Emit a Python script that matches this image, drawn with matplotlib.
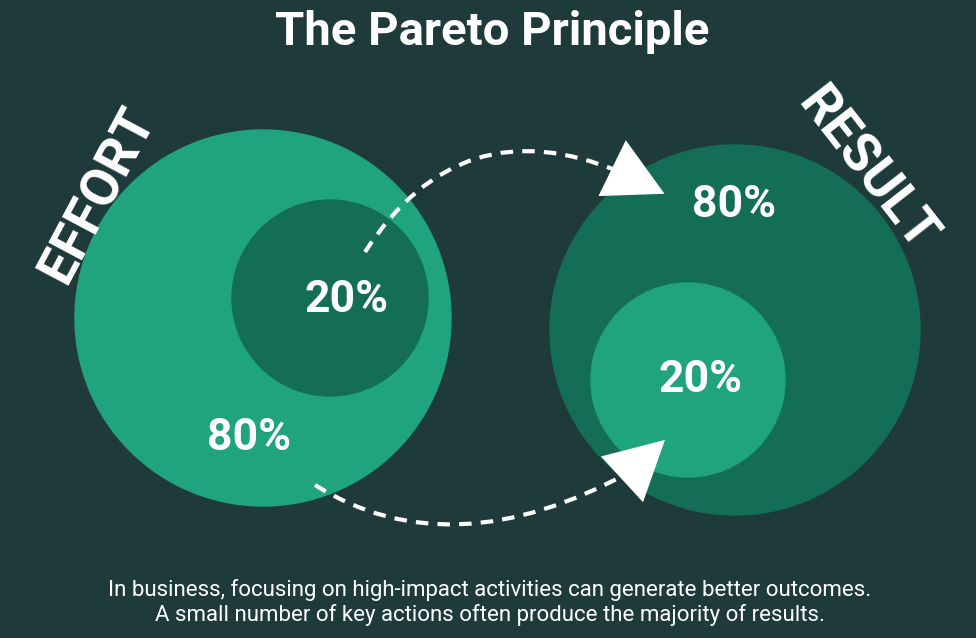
import matplotlib
matplotlib.use('Agg')
import matplotlib.pyplot as plt
from matplotlib.patches import Circle, FancyArrowPatch, PathPatch
from matplotlib.path import Path

plt.rcParams['font.family'] = ['Roboto', 'DejaVu Sans']

# ── content ──────────────────────────────────
title = "The Pareto Principle"
side_labels = ["EFFORT", "RESULT"]
effort_shares = ["80%", "20%"]   # outer, inner
result_shares = ["80%", "20%"]
caption = ["In business, focusing on high-impact activities can generate better outcomes.",
           "A small number of key actions often produce the majority of results."]

BG = "#1f3a3b"
LIGHT = "#1fa47e"
DARK = "#136e55"

fig = plt.figure(figsize=(9.76, 6.38), dpi=100)
fig.patch.set_facecolor(BG)
ax = fig.add_axes([0, 0, 1, 1])
ax.set_xlim(0, 976)
ax.set_ylim(638, 0)
ax.set_aspect('equal')
ax.axis('off')

# circles
ax.add_patch(Circle((263, 318), 188, color=LIGHT))
ax.add_patch(Circle((330, 298), 98, color=DARK))
ax.add_patch(Circle((735, 330), 185, color=DARK))
ax.add_patch(Circle((688, 380), 97, color=LIGHT))

# texts
ax.text(492, 32, title, ha='center', va='center', color='white', fontsize=34, fontweight='bold')
ax.text(98, 195, side_labels[0], ha='center', va='center', color='white', fontsize=38,
        fontweight='bold', rotation=62)
ax.text(866, 170, side_labels[1], ha='center', va='center', color='white', fontsize=38,
        fontweight='bold', rotation=-52)
pct = dict(ha='center', va='center', color='white', fontsize=32, fontweight='bold')
ax.text(249, 438, effort_shares[0], **pct)
ax.text(347, 300, effort_shares[1], **pct)
ax.text(734, 205, result_shares[0], **pct)
ax.text(701, 380, result_shares[1], **pct)
ax.text(490, 590, caption[0], ha='center', va='center', color='white', fontsize=16)
ax.text(490, 615, caption[1], ha='center', va='center', color='white', fontsize=16)

# dashed curved arrows
def dashed_arrow(p0, c, p1, head_from, head_to):
    path = Path([p0, c, p1], [Path.MOVETO, Path.CURVE3, Path.CURVE3])
    ax.add_patch(PathPatch(path, fill=False, ec='white', lw=3, ls=(0, (3, 2.2))))
    ax.add_patch(FancyArrowPatch(head_from, head_to, arrowstyle='-|>,head_length=3,head_width=1.6',
                                 color='white', lw=0, mutation_scale=14))

dashed_arrow((365, 252), (460, 105), (620, 172), (620, 172), (667, 195))
dashed_arrow((315, 485), (450, 570), (630, 472), (630, 472), (667, 438))

fig.savefig("out.png", dpi=100, facecolor=BG)
